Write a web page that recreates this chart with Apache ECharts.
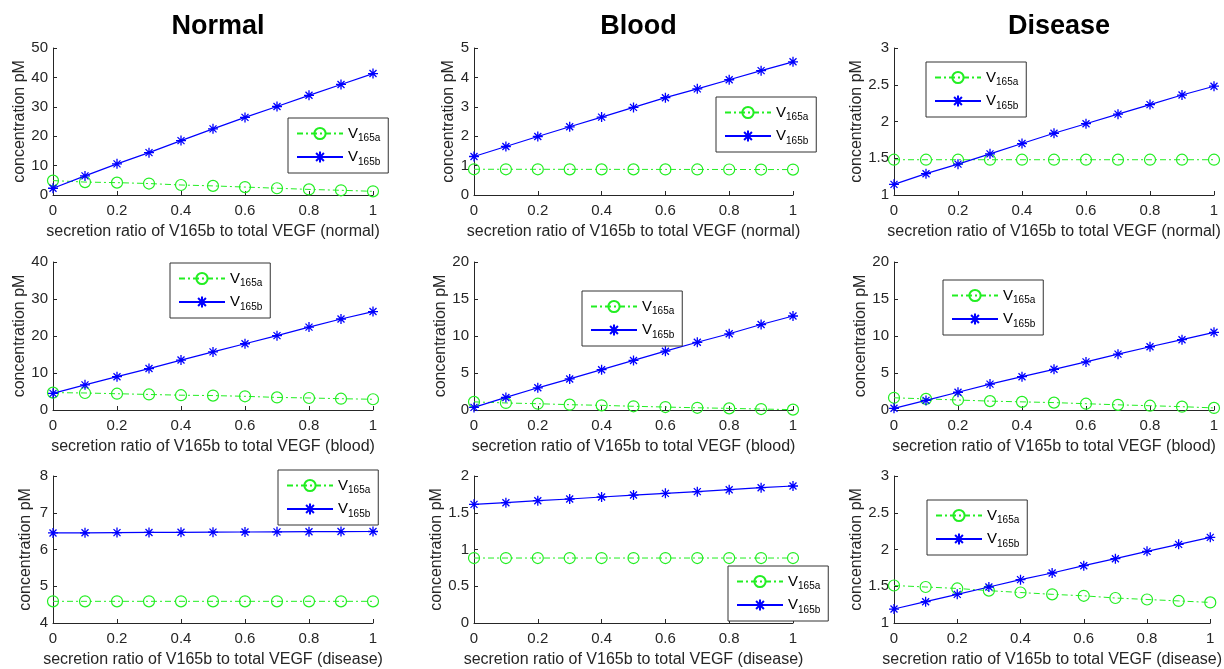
<!DOCTYPE html>
<html>
<head>
<meta charset="utf-8">
<script src="https://cdn.jsdelivr.net/npm/echarts@6/dist/echarts.min.js"></script>
<style>
  html, body { margin: 0; padding: 0; background: #fff; }
  #main { width: 1224px; height: 669px; }
</style>
</head>
<body>
<div id="main"></div>
<script>
// x values shared by every panel
const ratio = [0, 0.1, 0.2, 0.3, 0.4, 0.5, 0.6, 0.7, 0.8, 0.9, 1];
const xTicks = ['0', '0.2', '0.4', '0.6', '0.8', '1'];

// columns: tissue shown (Normal / Blood / Disease); rows: compartment where secretion ratio is varied
const colTitles = ['Normal', 'Blood', 'Disease'];
const rowNames = ['normal', 'blood', 'disease'];

// row 1: ratio varied in normal
const normalNormalA = [4.9, 4.4, 4.2, 3.9, 3.4, 3.1, 2.7, 2.3, 1.9, 1.6, 1.25];
const normalNormalB = [2.3, 6.5, 10.6, 14.4, 18.5, 22.5, 26.4, 30.1, 33.9, 37.6, 41.3];
const bloodNormalA = [0.875, 0.875, 0.874, 0.873, 0.872, 0.871, 0.870, 0.869, 0.868, 0.866, 0.865];
const bloodNormalB = [1.31, 1.65, 1.99, 2.32, 2.65, 2.98, 3.31, 3.61, 3.92, 4.23, 4.53];
const diseaseNormalA = [1.48, 1.48, 1.48, 1.48, 1.48, 1.48, 1.48, 1.48, 1.48, 1.48, 1.48];
const diseaseNormalB = [1.145, 1.29, 1.42, 1.56, 1.70, 1.84, 1.97, 2.10, 2.23, 2.36, 2.48];

// row 2: ratio varied in blood
const normalBloodA = [4.7, 4.6, 4.4, 4.2, 4.0, 3.9, 3.7, 3.4, 3.25, 3.05, 2.9];
const normalBloodB = [4.5, 6.8, 9.0, 11.2, 13.5, 15.7, 17.9, 20.1, 22.4, 24.6, 26.6];
const bloodBloodA = [1.1, 0.95, 0.85, 0.72, 0.63, 0.5, 0.4, 0.3, 0.22, 0.13, 0.05];
const bloodBloodB = [0.35, 1.7, 3.0, 4.2, 5.45, 6.7, 7.95, 9.15, 10.3, 11.55, 12.7];
const diseaseBloodA = [1.65, 1.5, 1.35, 1.2, 1.1, 1.0, 0.85, 0.7, 0.58, 0.45, 0.28];
const diseaseBloodB = [0.23, 1.3, 2.4, 3.5, 4.5, 5.5, 6.5, 7.55, 8.55, 9.5, 10.5];

// row 3: ratio varied in disease
const normalDiseaseA = [4.59, 4.59, 4.59, 4.59, 4.59, 4.59, 4.59, 4.59, 4.59, 4.59, 4.59];
const normalDiseaseB = [6.45, 6.455, 6.46, 6.464, 6.468, 6.472, 6.476, 6.48, 6.484, 6.488, 6.49];
const bloodDiseaseA = [0.884, 0.884, 0.884, 0.884, 0.884, 0.884, 0.884, 0.884, 0.884, 0.884, 0.884];
const bloodDiseaseB = [1.614, 1.637, 1.664, 1.687, 1.714, 1.741, 1.764, 1.787, 1.814, 1.841, 1.864];
const diseaseDiseaseA = [1.51, 1.49, 1.47, 1.44, 1.415, 1.39, 1.37, 1.34, 1.32, 1.30, 1.28];
const diseaseDiseaseB = [1.19, 1.29, 1.39, 1.49, 1.59, 1.68, 1.78, 1.875, 1.975, 2.07, 2.165];

const panelsA = [normalNormalA, bloodNormalA, diseaseNormalA,
                 normalBloodA, bloodBloodA, diseaseBloodA,
                 normalDiseaseA, bloodDiseaseA, diseaseDiseaseA];
const panelsB = [normalNormalB, bloodNormalB, diseaseNormalB,
                 normalBloodB, bloodBloodB, diseaseBloodB,
                 normalDiseaseB, bloodDiseaseB, diseaseDiseaseB];

// y axis ranges [min, max, interval]
const yRanges = [[0, 50, 10], [0, 5, 1], [1, 3, 0.5],
                 [0, 40, 10], [0, 20, 5], [0, 20, 5],
                 [4, 8, 1], [0, 2, 0.5], [1, 3, 0.5]];

// layout
const colLeft = [53, 474, 894];
const colWidth = [320, 319, 320];
const rowTop = [48, 262, 476];
const rowHeight = [147, 148, 147];
const yNameGap = [[23, 17, 26], [23, 17, 23], [19, 26, 26]];
const legendPos = [[288, 118], [716, 97], [926, 62],
                   [170, 263], [582, 291], [943, 280],
                   [278, 470], [728, 566], [927, 500]];

const font = 'Liberation Sans, Arial, Helvetica, sans-serif';
const axisColor = '#262626';
const green = '#22ee22';
const blue = '#0000ff';
const asterisk = 'path://M5 0L5 10M0 5L10 5M1.5 1.5L8.5 8.5M8.5 1.5L1.5 8.5';

let grids = [], xAxes = [], yAxes = [], series = [], legends = [], titles = [];

colTitles.forEach(function (t, c) {
  titles.push({
    text: t,
    left: colLeft[c] + colWidth[c] / 2,
    top: 8,
    textAlign: 'center',
    textStyle: { fontFamily: font, fontSize: 27, fontWeight: 'bold', color: '#000' }
  });
});

for (let r = 0; r < 3; r++) {
  for (let c = 0; c < 3; c++) {
    let i = r * 3 + c;
    grids.push({ left: colLeft[c], top: rowTop[r], width: colWidth[c], height: rowHeight[r] });
    xAxes.push({
      gridIndex: i,
      type: 'value',
      min: 0, max: 1, interval: 0.2,
      name: 'secretion ratio of V165b to total VEGF (' + rowNames[r] + ')',
      nameLocation: 'middle',
      nameGap: 29,
      nameTextStyle: { fontFamily: font, fontSize: 16, color: axisColor },
      axisLine: { lineStyle: { color: axisColor, width: 1 } },
      axisTick: { inside: true, length: 4, lineStyle: { color: axisColor } },
      axisLabel: {
        fontFamily: font, fontSize: 15, color: axisColor, margin: 8,
        formatter: function (v) { return xTicks[Math.round(v / 0.2)]; }
      },
      splitLine: { show: false }
    });
    yAxes.push({
      gridIndex: i,
      type: 'value',
      min: yRanges[i][0], max: yRanges[i][1], interval: yRanges[i][2],
      name: 'concentration pM',
      nameLocation: 'middle',
      nameGap: yNameGap[r][c],
      nameTextStyle: { fontFamily: font, fontSize: 16, color: axisColor },
      axisLine: { show: true, lineStyle: { color: axisColor, width: 1 } },
      axisTick: { show: true, inside: true, length: 4, lineStyle: { color: axisColor } },
      axisLabel: { fontFamily: font, fontSize: 15, color: axisColor, margin: 5 },
      splitLine: { show: false }
    });
    series.push({
      name: 'V165a',
      type: 'line',
      xAxisIndex: i, yAxisIndex: i,
      data: ratio.map((x, k) => [x, panelsA[i][k]]),
      symbol: 'circle',
      symbolSize: 11,
      itemStyle: { color: 'rgba(0,0,0,0)', borderColor: green, borderWidth: 1.2 },
      lineStyle: { color: green, width: 1, type: [6, 3, 2, 3] },
      z: 2
    });
    series.push({
      name: 'V165b',
      type: 'line',
      xAxisIndex: i, yAxisIndex: i,
      data: ratio.map((x, k) => [x, panelsB[i][k]]),
      symbol: asterisk,
      symbolSize: 10,
      itemStyle: { color: 'rgba(0,0,0,0)', borderColor: blue, borderWidth: 1.3 },
      lineStyle: { color: blue, width: 1.2 },
      z: 3
    });
    legends.push({
      left: legendPos[i][0],
      top: legendPos[i][1],
      orient: 'vertical',
      data: ['V165a', 'V165b'],
      itemWidth: 46,
      itemHeight: 14,
      itemGap: 6,
      padding: [8, 8, 6, 8],
      backgroundColor: '#fff',
      borderColor: '#333',
      borderWidth: 1,
      borderRadius: 0,
      selectedMode: false,
      formatter: function (name) { return 'V{s|' + name.slice(1) + '}'; },
      textStyle: {
        fontFamily: font, fontSize: 15, color: '#000',
        rich: { s: { fontFamily: font, fontSize: 10, color: '#000', padding: [10, 0, 0, 0] } }
      }
    });
  }
}

let myChart = echarts.init(document.getElementById('main'));
myChart.setOption({
  animation: false,
  backgroundColor: '#fff',
  title: titles,
  grid: grids,
  xAxis: xAxes,
  yAxis: yAxes,
  legend: legends,
  series: series
});
</script>
</body>
</html>
